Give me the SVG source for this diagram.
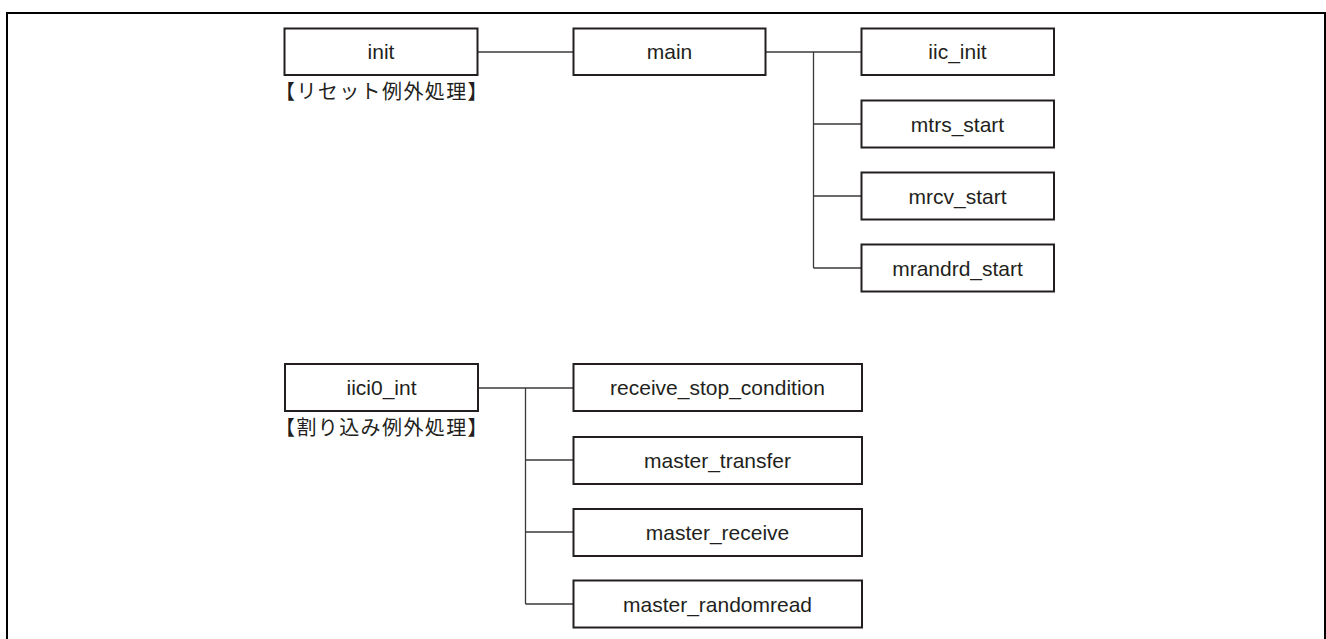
<svg xmlns="http://www.w3.org/2000/svg" width="1326" height="639" viewBox="0 0 1326 639">
<style>
.box{fill:#fff;stroke:#231f20;stroke-width:2}
.t{font-family:"Liberation Sans",Arial,sans-serif;font-size:21px;fill:#231f20;text-anchor:middle;dominant-baseline:central}
.j{font-family:"Noto Sans CJK JP","Liberation Sans",sans-serif;font-size:20px;letter-spacing:1.4px;fill:#231f20}
.c{stroke:#3a3a3a;stroke-width:1.3;fill:none}
</style>
<rect x="0" y="0" width="1326" height="639" fill="#fff"/>
<path d="M7 650 V13 H1325 V650" fill="none" stroke="#000" stroke-width="2"/>
<g id="connectors">
<path class="c" d="M478 52 H573"/>
<path class="c" d="M766 52 H861"/>
<path class="c" d="M813.5 52 V268"/>
<path class="c" d="M813.5 124 H861 M813.5 196 H861 M813.5 268 H861"/>
<path class="c" d="M478 388 H573"/>
<path class="c" d="M525.5 388 V604"/>
<path class="c" d="M525.5 460 H573 M525.5 532 H573 M525.5 604 H573"/>
</g>
<g id="init"><rect class="box" x="284.5" y="28.5" width="193" height="46.5"/><text class="t" x="381" y="51.5">init</text><text class="j" x="275" y="99">【リセット例外処理】</text></g>
<g id="main"><rect class="box" x="573.5" y="28.5" width="192" height="46.5"/><text class="t" x="669.5" y="51.5">main</text></g>
<g id="iic_init"><rect class="box" x="861.5" y="28.5" width="192.5" height="46.5"/><text class="t" x="957.5" y="51.5">iic_init</text></g>
<g id="mtrs_start"><rect class="box" x="861.5" y="100.5" width="192.5" height="47"/><text class="t" x="957.5" y="124">mtrs_start</text></g>
<g id="mrcv_start"><rect class="box" x="861.5" y="172.5" width="192.5" height="47"/><text class="t" x="957.5" y="196">mrcv_start</text></g>
<g id="mrandrd_start"><rect class="box" x="861.5" y="244.5" width="192.5" height="47"/><text class="t" x="957.5" y="268">mrandrd_start</text></g>
<g id="iici0_int"><rect class="box" x="285" y="364" width="193" height="47"/><text class="t" x="381.5" y="387.5">iici0_int</text><text class="j" x="275" y="435">【割り込み例外処理】</text></g>
<g id="receive_stop_condition"><rect class="box" x="573.5" y="364" width="288.5" height="47"/><text class="t" x="717.5" y="387.5">receive_stop_condition</text></g>
<g id="master_transfer"><rect class="box" x="573.5" y="437" width="288.5" height="47"/><text class="t" x="717.5" y="460">master_transfer</text></g>
<g id="master_receive"><rect class="box" x="573.5" y="509" width="288.5" height="47"/><text class="t" x="717.5" y="532">master_receive</text></g>
<g id="master_randomread"><rect class="box" x="573.5" y="580.5" width="288.5" height="47"/><text class="t" x="717.5" y="604">master_randomread</text></g>
</svg>
